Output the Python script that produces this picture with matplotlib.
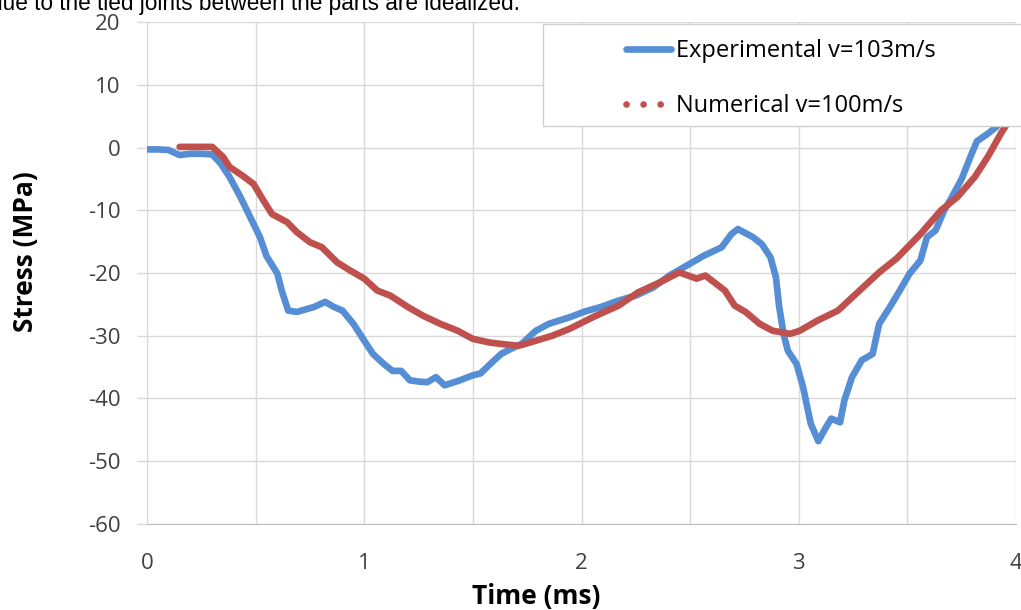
import matplotlib as mpl
mpl.use("Agg")
import matplotlib.pyplot as plt
from matplotlib.lines import Line2D
from matplotlib.patches import Rectangle
from matplotlib.ticker import MultipleLocator, FuncFormatter

plt.rcParams.update({
    "font.family": ["Open Sans", "DejaVu Sans"],
    "axes.unicode_minus": False,
})

# experimental trace, v = 103 m/s
exp_t = [0.00, 0.05, 0.10, 0.13, 0.15, 0.20, 0.25, 0.30, 0.34, 0.38, 0.43, 0.475,
         0.52, 0.55, 0.60, 0.62, 0.65, 0.69, 0.73, 0.77, 0.82, 0.86, 0.90, 0.95,
         1.00, 1.04, 1.09, 1.13, 1.17, 1.21, 1.25, 1.29, 1.33, 1.37, 1.44, 1.50,
         1.535, 1.58, 1.63, 1.68, 1.724, 1.79, 1.85, 1.95, 2.01, 2.09, 2.17, 2.25,
         2.33, 2.405, 2.485, 2.565, 2.645, 2.69, 2.72, 2.79, 2.83, 2.87, 2.895,
         2.91, 2.93, 2.95, 2.99, 3.02, 3.055, 3.09, 3.125, 3.15, 3.19, 3.21, 3.245,
         3.29, 3.34, 3.37, 3.42, 3.465, 3.51, 3.56, 3.59, 3.63, 3.67, 3.70, 3.75,
         3.79, 3.82, 3.87, 3.91, 3.98]
exp_s = [-0.3, -0.3, -0.4, -0.9, -1.2, -1.0, -1.0, -1.1, -2.6, -4.7, -7.9, -11.1,
         -14.3, -17.3, -20.1, -22.8, -26.0, -26.2, -25.8, -25.4, -24.6, -25.4, -26.0, -28.1,
         -30.8, -32.9, -34.5, -35.6, -35.6, -37.1, -37.3, -37.4, -36.6, -37.9, -37.1, -36.3,
         -36.0, -34.5, -32.9, -32.0, -31.3, -29.2, -28.1, -27.0, -26.2, -25.4, -24.4, -23.6,
         -22.3, -20.4, -18.8, -17.2, -15.9, -13.8, -13.0, -14.3, -15.4, -17.5, -20.7,
         -25.4, -29.7, -32.4, -34.5, -38.2, -44.0, -46.8, -44.6, -43.2, -43.8, -40.3, -36.6,
         -33.9, -32.9, -28.1, -25.4, -22.8, -20.1, -18.0, -14.3, -13.2, -10.0, -8.2, -5.0,
         -1.5, 1.0, 2.2, 3.3, 6.0]

# numerical trace, v = 100 m/s
num_t = [0.15, 0.20, 0.25, 0.30, 0.35, 0.38, 0.44, 0.49, 0.535, 0.575, 0.645, 0.69,
         0.75, 0.805, 0.875, 0.935, 1.00, 1.06, 1.12, 1.20, 1.27, 1.35, 1.43, 1.50,
         1.58, 1.63, 1.71, 1.77, 1.865, 1.945, 2.055, 2.17, 2.26, 2.36, 2.45, 2.53,
         2.57, 2.66, 2.705, 2.755, 2.82, 2.88, 2.96, 3.005, 3.085, 3.18, 3.28, 3.37,
         3.45, 3.56, 3.655, 3.73, 3.81, 3.87, 3.93, 4.00]
num_s = [0.1, 0.1, 0.1, 0.1, -1.5, -3.1, -4.5, -5.8, -8.4, -10.6, -11.9, -13.5,
         -15.1, -15.9, -18.3, -19.6, -20.9, -22.8, -23.6, -25.4, -26.8, -28.1, -29.2, -30.5,
         -31.1, -31.3, -31.6, -31.0, -30.0, -28.9, -27.0, -25.2, -23.1, -21.5, -19.9, -20.9,
         -20.4, -22.8, -25.2, -26.2, -28.1, -29.2, -29.7, -29.2, -27.6, -26.0, -22.8, -19.9,
         -17.7, -13.8, -10.0, -7.9, -4.7, -1.5, 2.2, 6.0]

labels = ["Experimental v=103m/s", "Numerical v=100m/s"]
C_EXP, C_NUM = "#558ed5", "#c0504d"
GRID = "#d9d9d9"
LW = 4.8

fig = plt.figure(figsize=(10.21, 6.10), dpi=100)
ax = fig.add_axes([0.1440, 0.1410, 0.8511, 0.8229])

ax.plot(exp_t, exp_s, c=C_EXP, lw=LW, solid_capstyle="round", solid_joinstyle="round", zorder=3)
ax.plot(num_t, num_s, c=C_NUM, lw=LW, solid_capstyle="round", solid_joinstyle="round", zorder=4)

ax.set_xlim(0, 4)
ax.set_ylim(-60, 20)
ax.xaxis.set_major_locator(MultipleLocator(0.5))
ax.xaxis.set_major_formatter(FuncFormatter(lambda v, p: f"{v:.0f}" if abs(v - round(v)) < 1e-6 else ""))
ax.yaxis.set_major_locator(MultipleLocator(10))
ax.yaxis.set_major_formatter(FuncFormatter(lambda v, p: f"{v:.0f}"))
ax.grid(True, color=GRID, lw=1.0, zorder=0)
ax.set_axisbelow(True)
for s in ("top", "right"):
    ax.spines[s].set_visible(False)
ax.spines["left"].set_color(GRID)
ax.spines["bottom"].set_color("#bfbfbf")
ax.tick_params(axis="y", length=7, width=1, color=GRID, pad=12,
               labelsize=16, labelcolor="#404040")
ax.tick_params(axis="x", length=0, pad=21, labelsize=16, labelcolor="#404040")

ax.set_ylabel("Stress (MPa)", fontsize=19, fontweight="bold", ha="center", va="center")
ax.yaxis.set_label_coords(-0.140, 0.542)
ax.set_xlabel("Time (ms)", fontsize=19, fontweight="bold", ha="center", va="center")
ax.xaxis.set_label_coords(0.448, -0.145)

# legend box (opaque, sits over the curves)
fig.add_artist(Rectangle((543 / 1021, 1 - 126 / 610), 0.47, 102 / 610,
                         transform=fig.transFigure, fc="white", ec="#d0d0d0",
                         lw=1.0, zorder=3))
handles = [
    Line2D([], [], c=C_EXP, lw=LW, solid_capstyle="round"),
    Line2D([], [], c=C_NUM, lw=LW, ls=(0, (0.01, 2.55)), dash_capstyle="round"),
]
fig.legend(handles, labels, loc="upper left",
           bbox_to_anchor=(626 / 1021, 1 - 39 / 610), frameon=False,
           fontsize=17, handlelength=1.9, handletextpad=0.2,
           labelspacing=1.32, borderpad=0, borderaxespad=0)

# cut-off sentence from the surrounding page
fig.text(520 / 1021, 1 - 10 / 610,
         "due to the tied joints between the parts are idealized.",
         ha="right", va="baseline", fontsize=16.3, family="Liberation Sans")

fig.savefig("out.png", dpi=100)
